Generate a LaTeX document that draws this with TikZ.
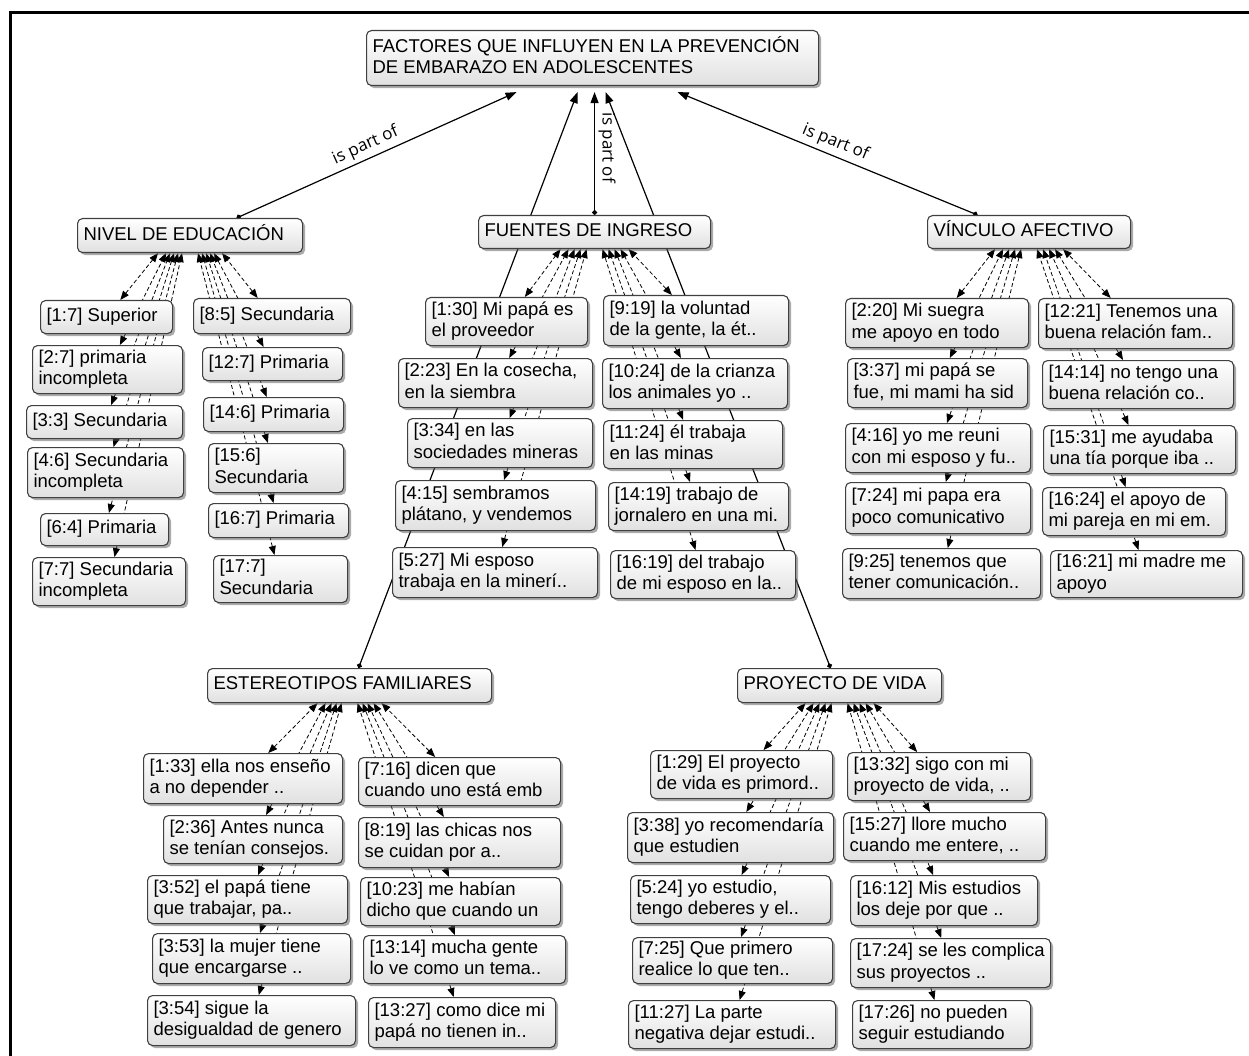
\documentclass[tikz,border=0pt]{standalone}
\usepackage{fontspec}
\setmainfont{Liberation Sans}
\newfontfamily\lblfont{Open Sans}
\usetikzlibrary{arrows.meta,shadows}
\pgfdeclarelayer{back}
\pgfdeclarelayer{wires}
\pgfsetlayers{back,wires,main}

\newcommand\boxfont{\fontsize{18.5}{21.5}\selectfont}
\tikzset{
  box/.style={draw=black!75, line width=1.1pt, rounded corners=5pt,
    top color=white, bottom color=black!12,
    drop shadow={shadow xshift=2.5pt, shadow yshift=-2.5pt, fill=black!65},
    anchor=north west, inner xsep=6pt, inner ysep=0pt, font=\boxfont},
  part/.style={line width=1.2pt, {Circle[length=5pt]}-{Triangle[length=11pt,width=8pt]}},
  lnk/.style={line width=0.8pt, dash pattern=on 4pt off 2.5pt,
    {Triangle[length=9pt,width=7pt]}-{Triangle[length=9pt,width=7pt]}},
  lbl/.style={font=\lblfont\fontsize{17}{20}\selectfont, inner sep=1pt}
}

% box by its corners (left, top, right, bottom), text left aligned
\newcommand\qbox[6]{%
  \pgfmathsetmacro\bw{#4-#2}%
  \pgfmathsetmacro\bh{#5-#3}%
  \pgfmathsetmacro\tw{#4-#2-12}%
  \node[box, minimum width=\bw pt, minimum height=\bh pt] (#1) at (#2,#3)
    {\makebox[\tw pt][l]{\begin{tabular}{@{}l@{}}#6\end{tabular}}};}

\begin{document}
\begin{tikzpicture}[x=1pt,y=-1pt]
\useasboundingbox (0,0) rectangle (1249,1056);
\begin{pgfonlayer}{back}
  \fill[white] (0,0) rectangle (1249,1056);
  \draw[line width=3pt] (10,1056) -- (10,13) -- (1249,13);
\end{pgfonlayer}

% main concept and codes
\qbox{root}{366}{30}{818}{85}{FACTORES QUE INFLUYEN EN LA PREVENCIÓN\\DE EMBARAZO EN ADOLESCENTES}
\qbox{nivel}{77}{218}{302}{252}{NIVEL DE EDUCACIÓN}
\qbox{fuentes}{478}{215}{710}{248}{FUENTES DE INGRESO}
\qbox{vinculo}{927}{215}{1130}{248}{VÍNCULO AFECTIVO}
\qbox{estereo}{207}{668}{491}{702}{ESTEREOTIPOS FAMILIARES}
\qbox{proyecto}{737}{668}{941}{702}{PROYECTO DE VIDA}

% nivel de educacion
\qbox{ne1}{40}{300}{172}{333}{[1:7] Superior}
\qbox{ne2}{32}{345}{182}{393}{[2:7] primaria\\incompleta}
\qbox{ne3}{26}{405}{182}{438}{[3:3] Secundaria}
\qbox{ne4}{27}{447}{183}{497}{[4:6] Secundaria\\incompleta}
\qbox{ne5}{40}{513}{168}{545}{[6:4] Primaria}
\qbox{ne6}{32}{557}{185}{605}{[7:7] Secundaria\\incompleta}
\qbox{ne7}{193}{298}{350}{333}{[8:5] Secundaria}
\qbox{ne8}{202}{347}{342}{380}{[12:7] Primaria}
\qbox{ne9}{203}{397}{343}{431}{[14:6] Primaria}
\qbox{ne10}{208}{443}{343}{492}{[15:6]\\Secundaria}
\qbox{ne11}{208}{503}{348}{537}{[16:7] Primaria}
\qbox{ne12}{213}{555}{347}{602}{[17:7]\\Secundaria}

% fuentes de ingreso
\qbox{fi1}{425}{297}{587}{345}{[1:30] Mi papá es\\el proveedor}
\qbox{fi2}{398}{358}{592}{407}{[2:23] En la cosecha,\\en la siembra}
\qbox{fi3}{407}{418}{592}{467}{[3:34] en las\\sociedades mineras}
\qbox{fi4}{395}{480}{595}{530}{[4:15] sembramos\\plátano, y vendemos}
\qbox{fi5}{392}{547}{597}{597}{[5:27] Mi esposo\\trabaja en la minerí..}
\qbox{fi6}{603}{295}{788}{345}{[9:19] la voluntad\\de la gente, la ét..}
\qbox{fi7}{602}{358}{787}{408}{[10:24] de la crianza\\los animales yo ..}
\qbox{fi8}{603}{420}{782}{468}{[11:24] él trabaja\\en las minas}
\qbox{fi9}{608}{482}{788}{530}{[14:19] trabajo de\\jornalero en una mi.}
\qbox{fi10}{610}{550}{795}{598}{[16:19] del trabajo\\de mi esposo en la..}

% vinculo afectivo
\qbox{va1}{845}{298}{1028}{347}{[2:20] Mi suegra\\me apoyo en todo}
\qbox{va2}{847}{358}{1027}{407}{[3:37] mi papá se\\fue, mi mami ha sid}
\qbox{va3}{845}{423}{1030}{472}{[4:16] yo me reuni\\con mi esposo y fu..}
\qbox{va4}{845}{482}{1030}{533}{[7:24] mi papa era\\poco comunicativo}
\qbox{va5}{842}{548}{1040}{598}{[9:25] tenemos que\\tener comunicación..}
\qbox{va6}{1038}{298}{1232}{348}{[12:21] Tenemos una\\buena relación fam..}
\qbox{va7}{1042}{360}{1233}{408}{[14:14] no tengo una\\buena relación co..}
\qbox{va8}{1043}{425}{1235}{473}{[15:31] me ayudaba\\una tía porque iba ..}
\qbox{va9}{1042}{487}{1225}{535}{[16:24] el apoyo de\\mi pareja en mi em.}
\qbox{va10}{1050}{550}{1242}{597}{[16:21] mi madre me\\apoyo}

% estereotipos familiares
\qbox{es1}{143}{753}{342}{803}{[1:33] ella nos enseño\\a no depender ..}
\qbox{es2}{163}{815}{342}{863}{[2:36] Antes nunca\\se tenían consejos.}
\qbox{es3}{147}{875}{347}{923}{[3:52] el papá tiene\\que trabajar, pa..}
\qbox{es4}{152}{933}{350}{983}{[3:53] la mujer tiene\\que encargarse ..}
\qbox{es5}{147}{995}{355}{1045}{[3:54] sigue la\\desigualdad de genero}
\qbox{es6}{358}{757}{560}{805}{[7:16] dicen que\\cuando uno está emb}
\qbox{es7}{358}{817}{560}{867}{[8:19] las chicas nos\\se cuidan por a..}
\qbox{es8}{360}{877}{560}{925}{[10:23] me habían\\dicho que cuando un}
\qbox{es9}{363}{935}{565}{983}{[13:14] mucha gente\\lo ve como un tema..}
\qbox{es10}{368}{997}{555}{1047}{[13:27] como dice mi\\papá no tienen in..}

% proyecto de vida
\qbox{pv1}{650}{750}{832}{798}{[1:29] El proyecto\\de vida es primord..}
\qbox{pv2}{627}{812}{833}{862}{[3:38] yo recomendaría\\que estudien}
\qbox{pv3}{630}{875}{830}{923}{[5:24] yo estudio,\\tengo deberes y el..}
\qbox{pv4}{632}{937}{832}{983}{[7:25] Que primero\\realice lo que ten..}
\qbox{pv5}{628}{1000}{835}{1048}{[11:27] La parte\\negativa dejar estudi..}
\qbox{pv6}{847}{752}{1030}{800}{[13:32] sigo con mi\\proyecto de vida, ..}
\qbox{pv7}{843}{812}{1045}{860}{[15:27] llore mucho\\cuando me entere, ..}
\qbox{pv8}{850}{875}{1037}{925}{[16:12] Mis estudios\\los deje por que ..}
\qbox{pv9}{850}{938}{1050}{987}{[17:24] se les complica\\sus proyectos ..}
\qbox{pv10}{852}{1000}{1030}{1048}{[17:26] no pueden\\seguir estudiando}

\begin{pgfonlayer}{wires}
  % relations to the main concept
  \draw[part] ([xshift=46.5pt]nivel.north) -- node[lbl, sloped, above=3pt, pos=0.48] (lblA) {is part of}
    ([xshift=-76pt,yshift=-6pt]root.south);
  \draw[part] (fuentes.north) -- ([xshift=2pt,yshift=-6pt]root.south);
  \node[lbl, rotate=-90] (lblB) at (607,148) {is part of};
  \draw[part] ([xshift=-51.5pt]vinculo.north) -- node[lbl, sloped, above=3pt, pos=0.49] (lblC) {is part of}
    ([xshift=85pt,yshift=-6pt]root.south);
  \draw[part] ([xshift=9pt]estereo.north) -- ([xshift=-15pt,yshift=-6pt]root.south);
  \draw[part] ([xshift=-9pt]proyecto.north) -- ([xshift=13pt,yshift=-6pt]root.south);

  % quotations linked to their codes
  \foreach \n/\o in {ne1/32,ne2/24,ne3/20,ne4/16,ne5/12,ne6/8}
    \draw[lnk] (\n) -- ([xshift=-\o pt]nivel.south);
  \foreach \n/\o in {ne7/32,ne8/24,ne9/20,ne10/16,ne11/12,ne12/8}
    \draw[lnk] (\n) -- ([xshift=\o pt]nivel.south);
  \foreach \n/\o in {fi1/34,fi2/26,fi3/20,fi4/14,fi5/8}
    \draw[lnk] (\n) -- ([xshift=-\o pt]fuentes.south);
  \foreach \n/\o in {fi6/34,fi7/26,fi8/20,fi9/14,fi10/8}
    \draw[lnk] (\n) -- ([xshift=\o pt]fuentes.south);
  \foreach \n/\o in {va1/34,va2/26,va3/20,va4/14,va5/8}
    \draw[lnk] (\n) -- ([xshift=-\o pt]vinculo.south);
  \foreach \n/\o in {va6/34,va7/26,va8/20,va9/14,va10/8}
    \draw[lnk] (\n) -- ([xshift=\o pt]vinculo.south);
  \foreach \n/\o in {es1/32,es2/24,es3/18,es4/13,es5/8}
    \draw[lnk] (\n) -- ([xshift=-\o pt]estereo.south);
  \foreach \n/\o in {es6/32,es7/24,es8/18,es9/13,es10/8}
    \draw[lnk] (\n) -- ([xshift=\o pt]estereo.south);
  \foreach \n/\o in {pv1/34,pv2/26,pv3/20,pv4/14,pv5/8}
    \draw[lnk] (\n) -- ([xshift=-\o pt]proyecto.south);
  \foreach \n/\o in {pv6/34,pv7/26,pv8/20,pv9/14,pv10/8}
    \draw[lnk] (\n) -- ([xshift=\o pt]proyecto.south);
\end{pgfonlayer}
\end{tikzpicture}
\end{document}
